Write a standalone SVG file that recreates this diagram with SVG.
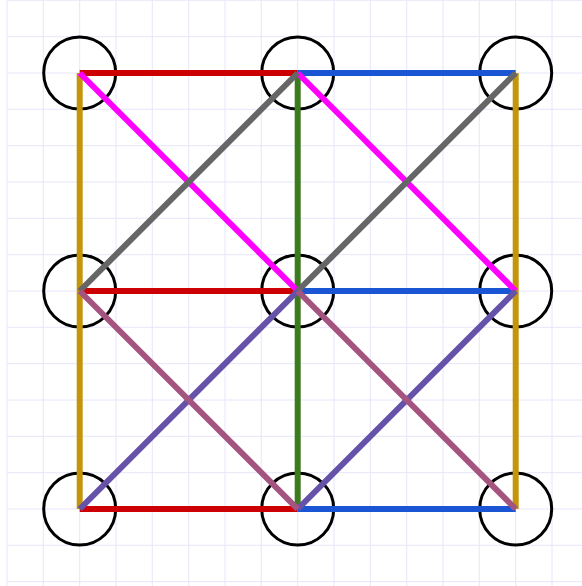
<svg xmlns="http://www.w3.org/2000/svg" width="582" height="586" viewBox="0 0 582 586">
<defs>
<style>
.grid line{stroke:#e6e6fa;stroke-width:1}
.e{stroke-width:6;stroke-linecap:butt;fill:none}
.red{stroke:#cc0000}.blue{stroke:#1a55d4}.gold{stroke:#c4950a}.green{stroke:#3b7a1e}
.mag{stroke:#ff00ff}.gray{stroke:#666666}.purple{stroke:#6652a8}.mauve{stroke:#a4557f}
.node circle{fill:none;stroke:#000;stroke-width:3}
</style>
</defs>
<rect width="582" height="586" fill="#fff"/>
<g class="grid">
<line x1="7" y1="0.3" x2="7" y2="586"/><line x1="43.3" y1="0.3" x2="43.3" y2="586"/><line x1="79.7" y1="0.3" x2="79.7" y2="586"/><line x1="116" y1="0.3" x2="116" y2="586"/><line x1="152.3" y1="0.3" x2="152.3" y2="586"/><line x1="188.7" y1="0.3" x2="188.7" y2="586"/><line x1="225" y1="0.3" x2="225" y2="586"/><line x1="261.3" y1="0.3" x2="261.3" y2="586"/><line x1="297.7" y1="0.3" x2="297.7" y2="586"/><line x1="334" y1="0.3" x2="334" y2="586"/><line x1="370.3" y1="0.3" x2="370.3" y2="586"/><line x1="406.7" y1="0.3" x2="406.7" y2="586"/><line x1="443" y1="0.3" x2="443" y2="586"/><line x1="479.3" y1="0.3" x2="479.3" y2="586"/><line x1="515.7" y1="0.3" x2="515.7" y2="586"/><line x1="552" y1="0.3" x2="552" y2="586"/>
<line x1="7" y1="0.3" x2="582" y2="0.3"/><line x1="7" y1="36.7" x2="582" y2="36.7"/><line x1="7" y1="73" x2="582" y2="73"/><line x1="7" y1="109.3" x2="582" y2="109.3"/><line x1="7" y1="145.7" x2="582" y2="145.7"/><line x1="7" y1="182" x2="582" y2="182"/><line x1="7" y1="218.3" x2="582" y2="218.3"/><line x1="7" y1="254.7" x2="582" y2="254.7"/><line x1="7" y1="291" x2="582" y2="291"/><line x1="7" y1="327.3" x2="582" y2="327.3"/><line x1="7" y1="363.7" x2="582" y2="363.7"/><line x1="7" y1="400" x2="582" y2="400"/><line x1="7" y1="436.3" x2="582" y2="436.3"/><line x1="7" y1="472.7" x2="582" y2="472.7"/><line x1="7" y1="509" x2="582" y2="509"/><line x1="7" y1="545.3" x2="582" y2="545.3"/><line x1="7" y1="581.7" x2="582" y2="581.7"/>
</g>
<g id="n00" class="node"><circle cx="79.7" cy="73" r="36"/></g>
<g id="n01" class="node"><circle cx="297.7" cy="73" r="36"/></g>
<g id="n02" class="node"><circle cx="515.7" cy="73" r="36"/></g>
<g id="n10" class="node"><circle cx="79.7" cy="291" r="36"/></g>
<g id="n11" class="node"><circle cx="297.7" cy="291" r="36"/></g>
<g id="n12" class="node"><circle cx="515.7" cy="291" r="36"/></g>
<g id="n20" class="node"><circle cx="79.7" cy="509" r="36"/></g>
<g id="n21" class="node"><circle cx="297.7" cy="509" r="36"/></g>
<g id="n22" class="node"><circle cx="515.7" cy="509" r="36"/></g>
<g id="connectors" class="e">
<line class="e red" x1="79.7" y1="73" x2="297.7" y2="73"/>
<line class="e red" x1="79.7" y1="291" x2="297.7" y2="291"/>
<line class="e red" x1="79.7" y1="509" x2="297.7" y2="509"/>
<line class="e blue" x1="297.7" y1="73" x2="515.7" y2="73"/>
<line class="e blue" x1="297.7" y1="291" x2="515.7" y2="291"/>
<line class="e blue" x1="297.7" y1="509" x2="515.7" y2="509"/>
<line class="e gold" x1="79.7" y1="73" x2="79.7" y2="291"/>
<line class="e gold" x1="79.7" y1="291" x2="79.7" y2="509"/>
<line class="e gold" x1="515.7" y1="73" x2="515.7" y2="291"/>
<line class="e gold" x1="515.7" y1="291" x2="515.7" y2="509"/>
<line class="e green" x1="297.7" y1="73" x2="297.7" y2="291"/>
<line class="e green" x1="297.7" y1="291" x2="297.7" y2="509"/>
<line class="e mag" x1="79.7" y1="73" x2="297.7" y2="291"/>
<line class="e mag" x1="297.7" y1="73" x2="515.7" y2="291"/>
<line class="e gray" x1="79.7" y1="291" x2="297.7" y2="73"/>
<line class="e gray" x1="297.7" y1="291" x2="515.7" y2="73"/>
<line class="e purple" x1="79.7" y1="509" x2="297.7" y2="291"/>
<line class="e purple" x1="297.7" y1="509" x2="515.7" y2="291"/>
<line class="e mauve" x1="79.7" y1="291" x2="297.7" y2="509"/>
<line class="e mauve" x1="297.7" y1="291" x2="515.7" y2="509"/>
</g>
</svg>
